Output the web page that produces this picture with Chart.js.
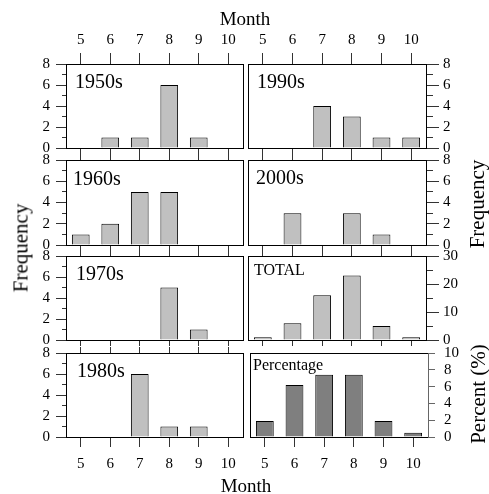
<!DOCTYPE html>
<html>
<head>
<meta charset="utf-8">
<script src="https://cdn.jsdelivr.net/npm/chart.js@4.4.1/dist/chart.umd.min.js"></script>
<style>
  body { margin: 0; background: #fff; }
  #wrap { position: relative; width: 489px; height: 494px; font-family: "Liberation Serif", "Times New Roman", serif; color: #000; }
  #wrap canvas { position: absolute; left: 0; top: 0; }
  .title { position: absolute; font-size: 21px; line-height: 1; white-space: nowrap; transform: translate(-50%, -50%); }
  .title.vert { transform: translate(-50%, -50%) rotate(-90deg); }
</style>
</head>
<body>
<div id="wrap">
  <div class="title" style="left:245px; top:18px; font-size:19px">Month</div>
  <div class="title" style="left:246px; top:485px; font-size:19px">Month</div>
  <div class="title vert" style="left:21px; top:248px">Frequency</div>
  <div class="title vert" style="left:477px; top:204px">Frequency</div>
  <div class="title vert" style="left:478px; top:394px">Percent (%)</div>
</div>
<script>
// months on the x axis
const months = ['5', '6', '7', '8', '9', '10'];

// storm counts per month, by decade
const freq1950s = [0, 1, 1, 6, 1, 0];
const freq1960s = [1, 2, 5, 5, 0, 0];
const freq1970s = [0, 0, 0, 5, 1, 0];
const freq1980s = [0, 0, 6, 1, 1, 0];
const freq1990s = [0, 0, 4, 3, 1, 1];
const freq2000s = [0, 3, 0, 3, 1, 0];
const freqTotal = [1, 6, 16, 23, 5, 1];
const percentValues = [1.9, 6.2, 7.4, 7.4, 1.9, 0.5];

// y tick values
const decadeTicks = [0, 2, 4, 6, 8];
const decadeMinor = [1, 3, 5, 7];
const totalTicks = [0, 10, 20, 30];
const totalMinor = [5, 15, 25];
const percentTicks = [0, 2, 4, 6, 8, 10];

const W = 489, H = 494;
const LIGHT = '#c0c0c0';
const DARK = '#7f7f7f';
const TICK = '#333';
const FONT = '"Liberation Serif", "Times New Roman", serif';

// room given to labelled axes (labels are clipped to the axis box)
const Y_BOX = 40, TOP_BOX = 34, BOTTOM_BOX = 40;

Chart.defaults.font.family = FONT;
Chart.defaults.font.size = 15;
Chart.defaults.color = '#000';

// fixed axis sizes, so each panel's plot area comes straight from layout padding
function sized(size) {
  return scale => {
    if (scale.isHorizontal()) scale.height = size; else scale.width = size;
    scale.paddingTop = scale.paddingBottom = scale.paddingLeft = scale.paddingRight = 0;
  };
}

function fixedTicks(values) {
  return scale => { scale.ticks = values.map(v => ({ value: v })); };
}

const panelLabel = {
  id: 'panelLabel',
  afterDraw(chart, args, opts) {
    if (!opts.text) return;
    const { ctx, chartArea } = chart;
    ctx.save();
    ctx.font = `${opts.size}px ${FONT}`;
    ctx.fillStyle = '#000';
    ctx.textBaseline = 'middle';
    ctx.fillText(opts.text, chartArea.left + opts.dx, chartArea.top + opts.dy);
    ctx.restore();
  }
};

const LEFT = [66, 243];
const RIGHT = [248, 426];
const ROWS = [[64, 148], [160, 245], [256, 340], [353, 437]];

const panels = [
  { text: '1950s', data: freq1950s, col: LEFT, row: ROWS[0], dx: 9, dy: 19, top: 11, topLabels: true },
  { text: '1960s', data: freq1960s, col: LEFT, row: ROWS[1], dx: 7, dy: 20 },
  { text: '1970s', data: freq1970s, col: LEFT, row: ROWS[2], dx: 10, dy: 19 },
  { text: '1980s', data: freq1980s, col: LEFT, row: ROWS[3], dx: 11, dy: 19, bottom: 10, bottomLabels: true },
  { text: '1990s', data: freq1990s, col: RIGHT, row: ROWS[0], dx: 9, dy: 19, right: true, top: 11, topLabels: true },
  { text: '2000s', data: freq2000s, col: RIGHT, row: ROWS[1], dx: 8, dy: 19, right: true },
  { text: 'TOTAL', data: freqTotal, col: RIGHT, row: ROWS[2], dx: 6, dy: 15, size: 16, right: true,
    max: 30, ticks: totalTicks, minor: totalMinor },
  { text: 'Percentage', data: percentValues, col: [250, 428], row: ROWS[3], dx: 3, dy: 13, size: 16, right: true,
    max: 10, ticks: percentTicks, minor: null, color: DARK, top: 0, bottom: 10, bottomLabels: true,
    major: 7, pad: 9, axisColor: '#666' },
];

const wrap = document.getElementById('wrap');

panels.forEach(p => {
  const canvas = document.createElement('canvas');
  canvas.width = W;
  canvas.height = H;
  wrap.insertBefore(canvas, wrap.firstChild);

  const side = p.right ? 'right' : 'left';
  const other = p.right ? 'left' : 'right';
  const max = p.max || 8;
  const minor = p.minor === undefined ? decadeMinor : p.minor;
  const topTick = p.top === undefined ? 6 : p.top;
  const bottomTick = p.bottom === undefined ? 6 : p.bottom;
  const axisColor = p.axisColor || '#000';
  const topBox = p.topLabels ? TOP_BOX : 0;
  const bottomBox = p.bottomLabels ? BOTTOM_BOX : 0;

  const scales = {
    x: {
      position: 'bottom', offset: true, afterFit: sized(bottomBox),
      grid: { drawOnChartArea: false, offset: false, tickLength: bottomTick, color: TICK },
      border: { color: '#000' },
      ticks: { display: !!p.bottomLabels, padding: 8, maxRotation: 0, autoSkip: false },
    },
    xTop: {
      type: 'category', labels: months, position: 'top', offset: true, afterFit: sized(topBox),
      grid: { display: topTick > 0, drawOnChartArea: false, offset: false, tickLength: topTick, color: TICK },
      border: { color: '#000' },
      ticks: { display: !!p.topLabels, padding: 4, maxRotation: 0, autoSkip: false },
    },
    y: {
      position: side, min: 0, max, weight: 1, afterFit: sized(Y_BOX),
      afterBuildTicks: fixedTicks(p.ticks || decadeTicks),
      grid: { drawOnChartArea: false, tickLength: p.major || (p.right ? 13 : 10), color: p.axisColor || TICK },
      border: { color: axisColor },
      ticks: { padding: p.pad || (p.right ? 4 : 6), autoSkip: false },
    },
    yBox: {
      position: other, min: 0, max, afterFit: sized(0),
      grid: { display: false },
      border: { color: '#000' },
      ticks: { display: false },
    },
  };
  if (minor) {
    scales.yMinor = {
      position: side, min: 0, max, weight: 0, afterFit: sized(0),
      afterBuildTicks: fixedTicks(minor),
      grid: { drawOnChartArea: false, tickLength: p.right ? 7 : 4, color: TICK },
      border: { display: false },
      ticks: { display: false, autoSkip: false },
    };
  }

  const padLeft = p.right ? p.col[0] : p.col[0] - Y_BOX;
  const padRight = p.right ? W - p.col[1] - Y_BOX : W - p.col[1];

  new Chart(canvas, {
    type: 'bar',
    data: {
      labels: months,
      datasets: [{
        data: p.data,
        backgroundColor: p.color || LIGHT,
        borderColor: '#000',
        borderWidth: 1,
        barPercentage: 0.6,
        categoryPercentage: 1,
      }],
    },
    options: {
      responsive: false,
      animation: false,
      devicePixelRatio: 1,
      layout: {
        autoPadding: false,
        padding: {
          left: padLeft,
          right: padRight,
          top: p.row[0] - topBox,
          bottom: H - p.row[1] - bottomBox,
        },
      },
      plugins: {
        legend: { display: false },
        tooltip: { enabled: false },
        panelLabel: { text: p.text, size: p.size || 20, dx: p.dx, dy: p.dy },
      },
      scales,
    },
    plugins: [panelLabel],
  });
});
</script>
</body>
</html>
